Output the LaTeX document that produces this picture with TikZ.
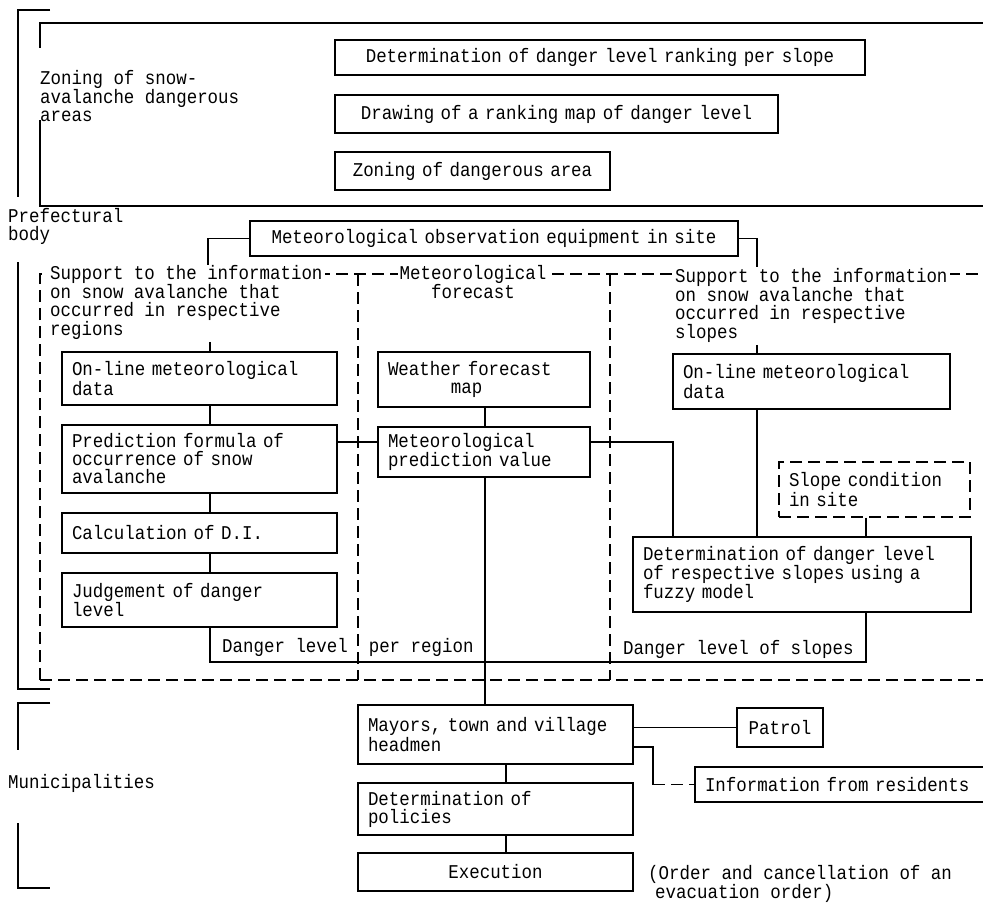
\documentclass[tikz,border=0pt]{standalone}
\usepackage{fontspec}
\newfontfamily\typefont[FakeStretch=0.895]{Liberation Mono}

\tikzset{
  rule/.style={line width=1.1pt},
  dashrule/.style={line width=1.1pt, dash pattern=on 12pt off 6pt},
  box/.style={draw, line width=1.1pt, inner xsep=10pt, inner ysep=3pt, align=left},
  txt/.style={inner sep=0pt, align=left, anchor=north west},
}

\begin{document}
\begin{tikzpicture}[x=1pt, y=-1pt, every node/.style={font=\typefont\fontsize{19.5}{18}\selectfont}]  % snow avalanche warning flow
\useasboundingbox (0,0) rectangle (983,903);

% brackets on the left
\draw[rule] (50,10) -- (18,10) -- (18,197);
\draw[rule] (18,262) -- (18,689) -- (50,689);
\draw[rule] (50,703) -- (18,703) -- (18,750);
\draw[rule] (18,823) -- (18,888) -- (50,888);
\node[txt] (pref) at (8,208) {Prefectural\\body};
\node[txt] (muni) at (8,774) {Municipalities};

% zoning part
\draw[rule] (983,23) -- (40,23) -- (40,48);
\draw[rule] (40,120) -- (40,206) -- (983,206);
\node[txt] (zonlab) at (40,70) {Zoning of snow-\\avalanche dangerous\\areas};
\node[box, text width=510pt, minimum height=35pt, align=center] (rank) at (600,57.5) {Determination of danger level ranking per slope};
\node[box, text width=423pt, minimum height=38pt, align=center] (mapdraw) at (556.5,114) {Drawing of a ranking map of danger level};
\node[box, text width=255pt, minimum height=38pt, align=center] (zone) at (472.5,171) {Zoning of dangerous area};

% dashed frame and dividers
\draw[dashrule] (40,680) -- (40,274) -- (983,274);
\draw[dashrule] (40,680) -- (983,680);
\draw[dashrule] (358,274) -- (358,680);
\draw[dashrule] (610,274) -- (610,680);

\node[txt, fill=white, inner sep=2pt] (lsup) at (48,263) {Support to the information\\on snow avalanche that\\occurred in respective\\regions};
\node[txt, fill=white, inner sep=2pt, align=center, anchor=north] (msup) at (473,263) {Meteorological\\forecast};
\node[txt, fill=white, inner sep=2pt] (rsup) at (673,266) {Support to the information\\on snow avalanche that\\occurred in respective\\slopes};

\node[box, text width=468pt, minimum height=35pt, align=center] (obs) at (494,238.5) {Meteorological observation equipment in site};

% left column
\node[box, text width=255pt, minimum height=53pt] (lonl) at (199.5,378.5) {On-line meteorological\\data};
\node[box, text width=255pt, minimum height=68pt] (lpred) at (199.5,459) {Prediction formula of\\occurrence of snow\\avalanche};
\node[box, text width=255pt, minimum height=40pt] (lcalc) at (199.5,533) {Calculation of D.I.};
\node[box, text width=255pt, minimum height=54pt] (ljudge) at (199.5,600) {Judgement of danger\\level};

% middle column
\node[box, text width=192pt, minimum height=55pt] (wmap) at (484,379.5) {Weather forecast\\\phantom{xxxxxx}map};
\node[box, text width=192pt, minimum height=50pt] (mpred) at (484,452) {Meteorological\\prediction value};

% right column
\node[box, text width=257pt, minimum height=55pt] (ronl) at (811.5,381.5) {On-line meteorological\\data};
\node[box, text width=171pt, minimum height=55pt, dash pattern=on 12pt off 6pt] (slope) at (874.5,489.5) {Slope condition\\in site};
\node[box, text width=318pt, minimum height=75pt] (fuzzy) at (802,574.5) {Determination of danger level\\of respective slopes using a\\fuzzy model};

\node[txt] (dreg) at (222,638) {Danger level\ \ per region};
\node[txt] (dslo) at (623,640) {Danger level of slopes};

% municipalities
\node[box, text width=255pt, minimum height=59pt] (mayor) at (495.5,734.5) {Mayors, town and village\\headmen};
\node[box, text width=66pt, minimum height=39pt, align=center] (patrol) at (780,727.5) {Patrol};
\node[box, text width=277pt, minimum height=35pt] (resid) at (843.5,784.5) {Information from residents};
\node[box, text width=255pt, minimum height=52pt] (policy) at (495.5,809) {Determination of\\policies};
\node[box, text width=255pt, minimum height=38pt, align=center] (exec) at (495.5,872) {Execution};
\node[txt, font=\typefont\fontsize{19.5}{17}\selectfont] (order) at (648,865) {(Order and cancellation of an\\\hspace*{7pt}evacuation order)};

% connectors
\coordinate (ltop) at (208,265);
\coordinate (rtop) at (757,267);
\coordinate (lx) at (210,0);
\coordinate (mx) at (485,0);
\coordinate (rx) at (757,0);
\coordinate (fx) at (673,0);
\coordinate (sx) at (866,0);
\coordinate (bx) at (506,0);
\coordinate (py) at (0,442);
\coordinate (jy) at (0,662);
\coordinate (rk) at (653,747);

\draw[rule] (obs.west) -| (ltop);
\draw[rule] (obs.east) -| (rtop);
\draw[rule] (lsup.south -| lx) -- (lonl.north -| lx);
\draw[rule] (lonl.south -| lx) -- (lpred.north -| lx);
\draw[rule] (lpred.south -| lx) -- (lcalc.north -| lx);
\draw[rule] (lcalc.south -| lx) -- (ljudge.north -| lx);
\draw[rule] (lpred.east |- py) -- (mpred.west |- py);
\draw[rule] (mpred.east |- py) -| (fuzzy.north -| fx);
\draw[rule] (wmap.south -| mx) -- (mpred.north -| mx);
\draw[rule] (mpred.south -| mx) -- (mayor.north -| mx);
\draw[rule] (rsup.south -| rx) -- (ronl.north -| rx);
\draw[rule] (ronl.south -| rx) -- (fuzzy.north -| rx);
\draw[rule] (slope.south -| sx) -- (fuzzy.north -| sx);
\draw[rule] (fuzzy.south -| sx) |- (mx |- jy);
\draw[rule] (ljudge.south -| lx) |- (mx |- jy);
\draw[rule] (mayor.east |- patrol.west) -- (patrol.west);
\draw[rule] (mayor.east |- rk) -- (rk) -- (rk |- resid.west);
\draw[dashrule] (rk |- resid.west) -- (resid.west);
\draw[rule] (mayor.south -| bx) -- (policy.north -| bx);
\draw[rule] (policy.south -| bx) -- (exec.north -| bx);
\end{tikzpicture}
\end{document}
